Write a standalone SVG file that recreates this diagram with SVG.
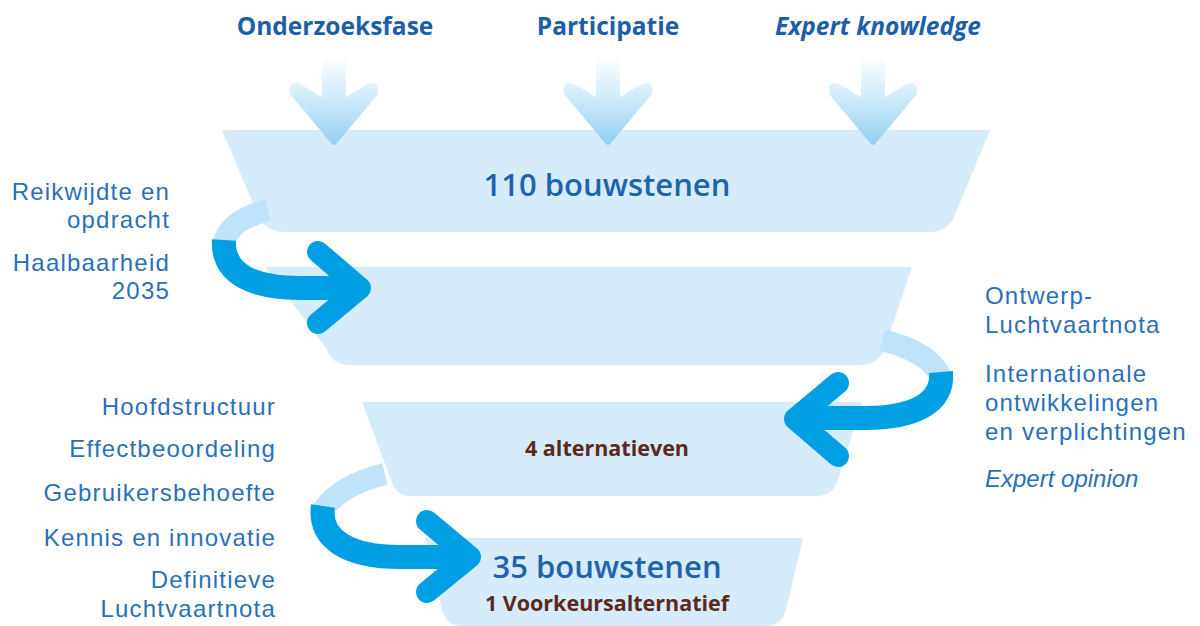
<svg xmlns="http://www.w3.org/2000/svg" width="1200" height="626" viewBox="0 0 1200 626">
<defs>
<linearGradient id="down" x1="0" y1="0" x2="0" y2="1">
<stop offset="0" stop-color="#ffffff"/>
<stop offset="0.45" stop-color="#d3ecfa"/>
<stop offset="1" stop-color="#92cff1"/>
</linearGradient>
<style>
.funnel{fill:#d7ecfa}
.light{fill:none;stroke:#bfe3f8;stroke-width:22}
.dark{fill:none;stroke:#009fe3;stroke-width:24}
.chev{fill:none;stroke:#009fe3;stroke-width:22;stroke-linecap:round;stroke-linejoin:round}
.head{font-family:"Open Sans","Noto Sans",sans-serif;font-weight:700;font-size:24.5px;fill:#1d5fa7;text-anchor:middle}
.lab{font-family:"Liberation Sans",Arial,sans-serif;font-size:24px;letter-spacing:1.2px;fill:#2a70b9}
.it{font-style:italic;letter-spacing:0}
.big{font-family:"Open Sans","Noto Sans",sans-serif;font-weight:600;font-size:31px;fill:#1d64ad;text-anchor:middle}
.brown{font-family:"Open Sans","Noto Sans",sans-serif;font-weight:700;font-size:21.5px;fill:#5b2a1d;text-anchor:middle}
.r{text-anchor:end}
</style>
</defs>
<g id="inputs">
<text class="head" x="335" y="35">Onderzoeksfase</text>
<text class="head" x="608" y="35">Participatie</text>
<text class="head" x="878" y="35" font-style="italic" font-size="23.5">Expert knowledge</text>
</g>
<g id="funnel1">
<path class="funnel" d="M222 130 L990 130 L955 215 Q948 232 930 232 L285 232 Q265 232 258 215 Z"/>
<text class="big" x="607" y="196">110 bouwstenen</text>
</g>
<g id="funnel2">
<path class="funnel" d="M265 267 L912 267 L885 348 Q879 365 860 365 L350 365 Q332 365 326 348 Z"/>
</g>
<g id="funnel3">
<path class="funnel" d="M362 402 L862 402 L838 480 Q833 496 815 496 L412 496 Q395 496 391 480 Z"/>
<text class="brown" x="607" y="456">4 alternatieven</text>
</g>
<g id="funnel4">
<path class="funnel" d="M425 538 L803 538 L786 610 Q782 626 765 626 L462 626 Q446 626 442 610 Z"/>
<text class="big" x="607" y="578">35 bouwstenen</text>
<text class="brown" x="607" y="611">1 Voorkeursalternatief</text>
</g>
<g id="connectors">
<g id="arrow-in-1">
<path fill="url(#down)" d="M322 55 L346 55 L346 97 L368 84 Q380 80 378 94 L337 143 Q334 147 331 143 L290 94 Q288 80 300 84 L322 97 Z"/>
</g>
<g id="arrow-in-2">
<path fill="url(#down)" d="M596 55 L620 55 L620 97 L642 84 Q654 80 652 94 L611 143 Q608 147 605 143 L564 94 Q562 80 574 84 L596 97 Z"/>
</g>
<g id="arrow-in-3">
<path fill="url(#down)" d="M861 55 L885 55 L885 97 L907 84 Q919 80 917 94 L876 143 Q873 147 870 143 L829 94 Q827 80 839 84 L861 97 Z"/>
</g>
<g id="loop1">
<path class="light" d="M268 210 Q230 220 224 242"/>
<path class="dark" d="M224 240 C222 275 255 288 300 288 L352 288"/>
<path class="chev" d="M318 252 L360 288 L318 323"/>
</g>
<g id="loop2">
<path class="light" d="M882 340 Q930 352 940 376"/>
<path class="dark" d="M941 372 C944 405 910 418 865 418 L805 418"/>
<path class="chev" d="M838 383 L795 419 L838 456"/>
</g>
<g id="loop3">
<path class="light" d="M385 474 Q340 485 323 510"/>
<path class="dark" d="M323 506 C318 540 350 557 400 557 L465 557"/>
<path class="chev" d="M427 521 L470 557 L427 592"/>
</g>
</g>
<g id="labels-left-top">
<text class="lab r" x="170" y="200">Reikwijdte en</text>
<text class="lab r" x="170" y="228">opdracht</text>
<text class="lab r" x="170" y="271">Haalbaarheid</text>
<text class="lab r" x="170" y="299">2035</text>
</g>
<g id="labels-right">
<text class="lab" x="985" y="304">Ontwerp-</text>
<text class="lab" x="985" y="333">Luchtvaartnota</text>
<text class="lab" x="985" y="382">Internationale</text>
<text class="lab" x="985" y="411">ontwikkelingen</text>
<text class="lab" x="985" y="440">en verplichtingen</text>
<text class="lab it" x="985" y="487">Expert opinion</text>
</g>
<g id="labels-left-bottom">
<text class="lab r" x="276" y="415">Hoofdstructuur</text>
<text class="lab r" x="276" y="457">Effectbeoordeling</text>
<text class="lab r" x="276" y="501">Gebruikersbehoefte</text>
<text class="lab r" x="276" y="546">Kennis en innovatie</text>
<text class="lab r" x="276" y="588">Definitieve</text>
<text class="lab r" x="276" y="617">Luchtvaartnota</text>
</g>
</svg>
